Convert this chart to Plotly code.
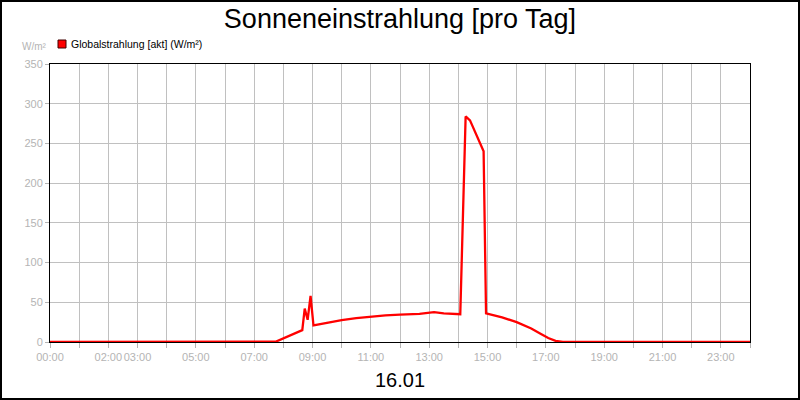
import plotly.graph_objects as go

# Data
times = ["00:00", "07:30", "07:45", "08:39", "08:44", "08:50", "08:56", "09:02",
         "09:30", "10:00", "10:30", "11:00", "11:30", "12:00", "12:40", "13:10",
         "13:30", "14:04", "14:15", "14:24", "14:52", "14:57", "15:30", "16:00",
         "16:30", "16:50", "17:05", "17:20", "17:35", "24:00"]
values = [0, 0, 0.5, 15, 42, 28, 58, 21,
          24.5, 27.5, 30, 32, 33.5, 34.5, 35.5, 37.5,
          36, 35, 284, 279, 240, 36, 31, 25,
          17, 10, 5, 1.5, 0, 0]
tick_labels = ["00:00", "02:00", "03:00", "05:00", "07:00", "09:00", "11:00",
               "13:00", "15:00", "17:00", "19:00", "21:00", "23:00"]
y_ticks = [0, 50, 100, 150, 200, 250, 300, 350]


def to_hours(t):
    h, m = t.split(":")
    return int(h) + int(m) / 60


hours = [to_hours(t) for t in times]
tick_hours = list(range(25))
tick_text = [f"{h:02d}:00" if f"{h:02d}:00" in tick_labels else "" for h in tick_hours]

W, H = 800, 400
L, R, T, B = 50, 50, 64, 58
pw, ph = W - L - R, H - T - B


def px(x):
    return (x - L) / pw


def py(y):
    return 1 - (y - T) / ph


fig = go.Figure(go.Scatter(
    x=hours, y=values, mode="lines",
    line=dict(color="#ff0000", width=2.3),
    showlegend=False,
))

grey = "#b4b4b4"
fig.update_xaxes(
    range=[0, 24], tickvals=tick_hours, ticktext=tick_text, tickangle=0,
    showgrid=True, gridcolor="#c0c0c0", gridwidth=1,
    ticks="outside", ticklen=5, tickcolor=grey,
    tickfont=dict(color=grey, size=11),
    showline=True, linecolor="black", linewidth=1, mirror=True,
    zeroline=False,
)
fig.update_yaxes(
    range=[0, 350], tickvals=y_ticks,
    showgrid=True, gridcolor="#c0c0c0", gridwidth=1,
    ticks="outside", ticklen=4, tickcolor=grey,
    tickfont=dict(color=grey, size=11),
    showline=True, linecolor="black", linewidth=1, mirror=True,
    zeroline=False,
)

fig.update_layout(
    width=W, height=H,
    margin=dict(l=L, r=R, t=T, b=B),
    paper_bgcolor="white", plot_bgcolor="white",
    font=dict(family="Liberation Sans, Arial", size=11),
    title=dict(text="Sonneneinstrahlung [pro Tag]", x=0.5, xanchor="center",
               y=1 - 19 / H, yanchor="middle",
               font=dict(size=27, color="black")),
    shapes=[
        # outer frame
        dict(type="rect", xref="paper", yref="paper",
             x0=px(1), x1=px(W - 1), y0=py(H - 1), y1=py(1),
             line=dict(color="black", width=2)),
        # legend square
        dict(type="rect", xref="paper", yref="paper",
             x0=px(58), x1=px(66), y0=py(48), y1=py(40),
             fillcolor="#ff0000", line=dict(color="#400000", width=1)),
    ],
    annotations=[
        dict(text="Globalstrahlung [akt] (W/m²)", xref="paper", yref="paper",
             x=px(69), y=py(44), xanchor="left", yanchor="middle",
             showarrow=False, font=dict(size=10.5, color="black")),
        dict(text="W/m²", xref="paper", yref="paper",
             x=px(49), y=py(47), xanchor="right", yanchor="middle",
             showarrow=False, font=dict(size=10, color=grey)),
        dict(text="16.01", xref="paper", yref="paper",
             x=0.5, y=py(380), xanchor="center", yanchor="middle",
             showarrow=False, font=dict(size=20, color="black")),
    ],
)

fig.write_html("out.html", config={"displayModeBar": False},
               post_script="document.body.style.margin='0';")
